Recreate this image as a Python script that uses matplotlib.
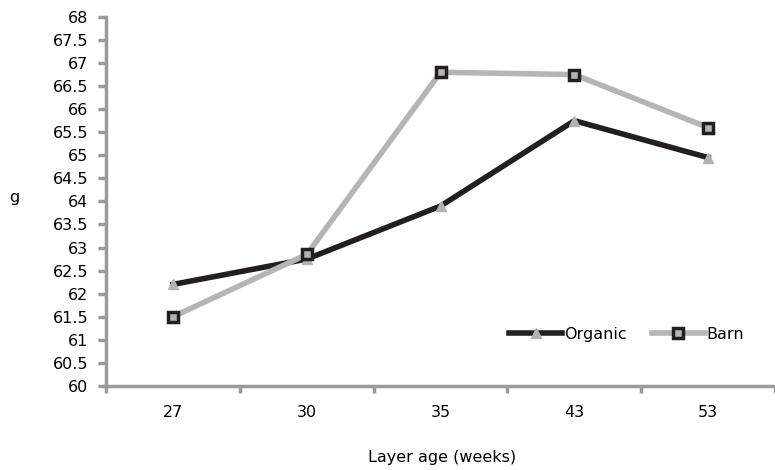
import matplotlib.pyplot as plt

weeks = ['27', '30', '35', '43', '53']
organic = [62.2, 62.75, 63.9, 65.75, 64.95]
barn = [61.5, 62.85, 66.8, 66.75, 65.6]
yticks = [60 + 0.5 * i for i in range(17)]

fig = plt.figure(figsize=(7.75, 4.7), dpi=100)
ax = fig.add_axes([0.137, 0.179, 0.863, 0.785])

x = list(range(len(weeks)))
ax.plot(x, organic, color='#231f20', lw=4, marker='^', ms=7,
        mfc='#b3b3b3', mec='#b3b3b3', label='Organic', zorder=3)
ax.plot(x, barn, color='#b5b5b7', lw=4, marker='s', ms=7,
        mfc='#b5b5b7', mec='#231f20', mew=2.5, label='Barn', zorder=3)

ax.set_xlim(-0.5, len(weeks) - 0.5)
ax.set_ylim(60, 68)
ax.set_yticks(yticks)
ax.set_yticklabels(['%g' % v for v in yticks])
ax.set_xticks(x)
ax.set_xticklabels(weeks)
ax.set_xticks([i - 0.5 for i in range(len(weeks) + 1)], minor=True)

for s in ['top', 'right']:
    ax.spines[s].set_visible(False)
for s in ['left', 'bottom']:
    ax.spines[s].set_color('#9a9a9a')
    ax.spines[s].set_linewidth(2.5)

fs = 11.5
ax.tick_params(axis='y', length=6, width=2.5, color='#9a9a9a',
               labelsize=fs, pad=7)
ax.tick_params(axis='x', which='major', length=0, labelsize=fs, pad=14)
ax.tick_params(axis='x', which='minor', length=5, width=2.5, color='#9a9a9a')

fig.text(0.012, 0.58, 'g', fontsize=fs, va='center')
fig.text(0.57, 0.027, 'Layer age (weeks)', fontsize=fs, ha='center', va='center')

ax.legend(loc='lower right', bbox_to_anchor=(0.975, 0.08), frameon=False,
          ncol=2, fontsize=fs, handlelength=3.3, handletextpad=0.1,
          columnspacing=1.6)

plt.savefig('out.png', dpi=100)
